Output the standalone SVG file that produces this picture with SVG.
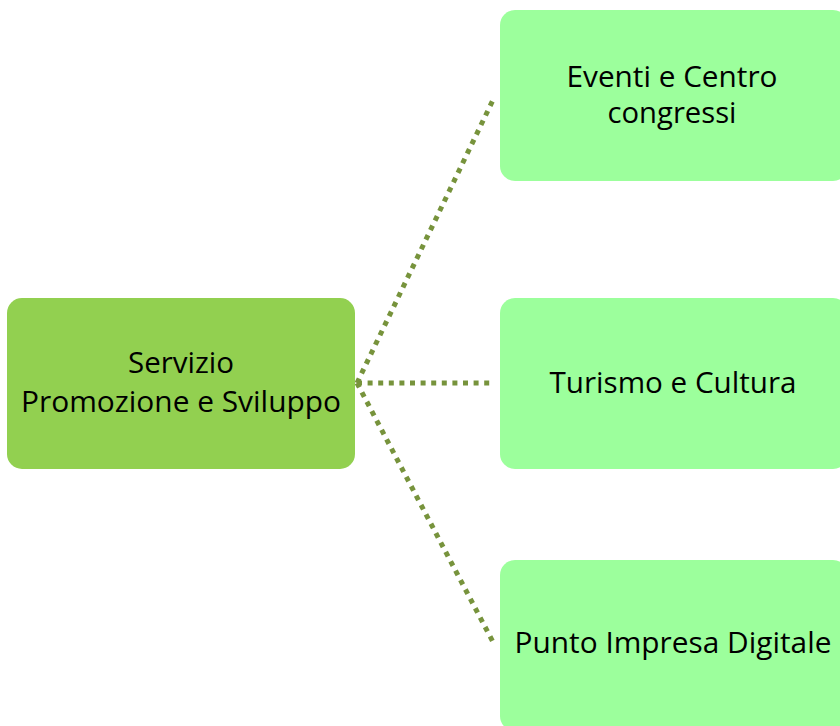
<svg xmlns="http://www.w3.org/2000/svg" width="840" height="726" viewBox="0 0 840 726">
<style>
.root{fill:#92D050}
.leaf{fill:#9CFF9C}
.t{font-family:"Open Sans","Noto Sans",sans-serif;font-size:29px;fill:#000;text-anchor:middle}
.c{fill:none;stroke:#77933C;stroke-width:5;stroke-dasharray:5 5.6}
</style>
<rect width="840" height="726" fill="#fff"/>
<g id="connectors">
<line class="c" x1="357" y1="383" x2="493" y2="100"/>
<line class="c" x1="357" y1="383" x2="492" y2="383"/>
<line class="c" x1="357" y1="383" x2="493" y2="642"/>
</g>
<g id="node-servizio">
<rect class="root" x="7" y="298" width="348" height="171" rx="15"/>
<text class="t" x="181" y="373" textLength="106" lengthAdjust="spacingAndGlyphs">Servizio</text>
<text class="t" x="181" y="412" textLength="320" lengthAdjust="spacingAndGlyphs">Promozione e Sviluppo</text>
</g>
<g id="node-eventi">
<rect class="leaf" x="500" y="10" width="348" height="171" rx="15"/>
<text class="t" x="672" y="87" textLength="211" lengthAdjust="spacingAndGlyphs">Eventi e Centro</text>
<text class="t" x="672" y="123" textLength="129" lengthAdjust="spacingAndGlyphs">congressi</text>
</g>
<g id="node-turismo">
<rect class="leaf" x="500" y="298" width="348" height="171" rx="15"/>
<text class="t" x="673" y="393" textLength="247" lengthAdjust="spacingAndGlyphs">Turismo e Cultura</text>
</g>
<g id="node-pid">
<rect class="leaf" x="500" y="560" width="348" height="171" rx="15"/>
<text class="t" x="673" y="653" textLength="317" lengthAdjust="spacingAndGlyphs">Punto Impresa Digitale</text>
</g>
</svg>
